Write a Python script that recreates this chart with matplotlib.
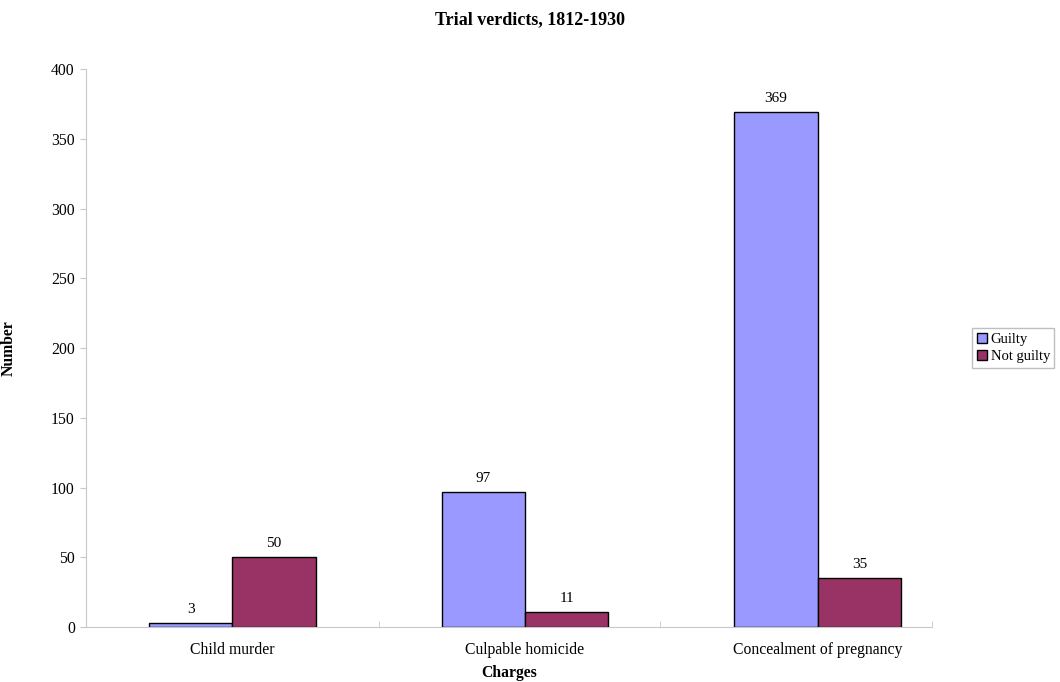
import numpy as np
import matplotlib
matplotlib.use("Agg")
import matplotlib.pyplot as plt

charges = ["Child murder", "Culpable homicide", "Concealment of pregnancy"]
guilty = [3, 97, 369]
not_guilty = [50, 11, 35]

plt.rcParams["font.family"] = ["Liberation Serif", "DejaVu Serif"]

fig = plt.figure(figsize=(10.6, 6.82), dpi=100)
ax = fig.add_axes([0.0811, 0.0806, 0.798, 0.8182])

x = np.arange(len(charges))
w = 0.285
b1 = ax.bar(x - w / 2, guilty, w, color="#9999FF", edgecolor="black", linewidth=1, label="Guilty")
b2 = ax.bar(x + w / 2, not_guilty, w, color="#993366", edgecolor="black", linewidth=1, label="Not guilty")

for bars in (b1, b2):
    for r in bars:
        ax.annotate(str(int(r.get_height())), xy=(r.get_x() + r.get_width() / 2, r.get_height()),
                    xytext=(0, 5), textcoords="offset points", ha="center", va="bottom", fontsize=11)

ax.set_xlim(-0.5, 2.39)
ax.set_ylim(0, 400)
ax.set_yticks(range(0, 401, 50))
ax.set_xticks(x)
ax.set_xticklabels(charges)
ax.set_xticks([-0.5, 0.5, 1.46, 2.39], minor=True)
ax.tick_params(axis="x", which="major", length=0, pad=11, labelsize=11.3)
ax.tick_params(axis="x", which="minor", length=4, color="#c8c8c8", direction="in")
ax.tick_params(axis="y", length=4, color="#c8c8c8", labelsize=11.3, pad=4)

for s in ("top", "right"):
    ax.spines[s].set_visible(False)
for s in ("left", "bottom"):
    ax.spines[s].set_color("#c8c8c8")

ax.set_xlabel("Charges", fontweight="bold", fontsize=11.3)
ax.xaxis.set_label_coords(0.5, -0.068)
ax.set_ylabel("Number", fontweight="bold", fontsize=11.3)
ax.yaxis.set_label_coords(-0.082, 0.5)
fig.suptitle("Trial verdicts, 1812-1930", fontweight="bold", fontsize=13, y=0.983)

leg = ax.legend(loc="center left", bbox_to_anchor=(1.048, 0.5), fontsize=10.5, frameon=True,
                fancybox=False, edgecolor="#b0b0b0", handlelength=0.7, handleheight=0.7,
                handletextpad=0.25, borderpad=0.3, borderaxespad=0, labelspacing=0.3)

fig.savefig("out.png", dpi=100)
